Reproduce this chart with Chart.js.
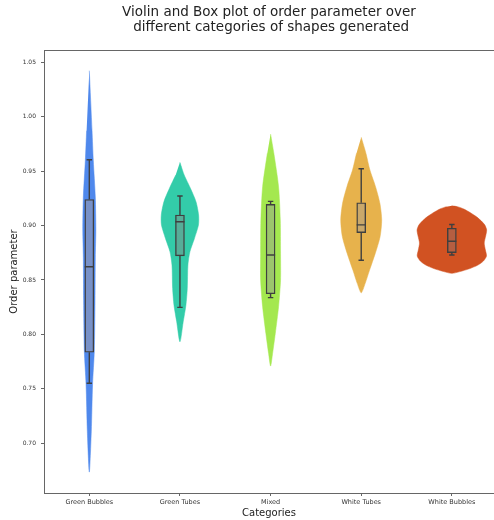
<!DOCTYPE html>
<html>
<head>
<meta charset="utf-8">
<script src="https://cdn.jsdelivr.net/npm/chart.js@4/dist/chart.umd.min.js"></script>
<style>
  html, body { margin: 0; padding: 0; background: #fff; }
  #wrap { width: 494px; height: 520px; }
</style>
</head>
<body>
<div id="wrap"><canvas id="chart" width="494" height="520"></canvas></div>
<script>
// Categories and y-axis ticks
const categories = ['Green Bubbles', 'Green Tubes', 'Mixed', 'White Tubes', 'White Bubbles'];
const yTickValues = [0.70, 0.75, 0.80, 0.85, 0.90, 0.95, 1.00, 1.05];

// Kernel density outlines: order-parameter levels (high to low) and half widths in category units
const levelsGreenBubbles  = [1.0423, 0.9871, 0.9596, 0.9262, 0.8959, 0.8710, 0.8315, 0.7846, 0.7543, 0.7111, 0.6735];
const densityGreenBubbles = [0, 0.030, 0.044, 0.066, 0.072, 0.066, 0.063, 0.055, 0.036, 0.022, 0];

const levelsGreenTubes  = [0.9581, 0.9464, 0.9342, 0.9219, 0.9097, 0.9005, 0.8882, 0.8759, 0.8637, 0.8423, 0.8269, 0.8116, 0.7932];
const densityGreenTubes = [0, 0.047, 0.116, 0.177, 0.206, 0.204, 0.160, 0.110, 0.088, 0.081, 0.066, 0.036, 0];

const levelsMixed  = [0.9841, 0.9664, 0.9357, 0.9051, 0.8744, 0.8499, 0.8254, 0.8009, 0.7825, 0.7709];
const densityMixed = [0, 0.036, 0.088, 0.107, 0.110, 0.110, 0.088, 0.052, 0.022, 0];

const levelsWhiteTubes  = [0.9811, 0.9664, 0.9510, 0.9357, 0.9204, 0.9051, 0.8897, 0.8744, 0.8591, 0.8469, 0.8382];
const densityWhiteTubes = [0, 0.052, 0.096, 0.158, 0.206, 0.226, 0.208, 0.155, 0.092, 0.044, 0];

const levelsWhiteBubbles  = [0.9181, 0.9174, 0.9152, 0.9115, 0.9078, 0.9041, 0.9005, 0.8959, 0.8904, 0.8839, 0.8775, 0.8720, 0.8674, 0.8637, 0.8605, 0.8577, 0.8561];
const densityWhiteBubbles = [0, 0.060, 0.132, 0.210, 0.276, 0.326, 0.364, 0.384, 0.373, 0.357, 0.370, 0.382, 0.348, 0.287, 0.199, 0.088, 0];

// Box plot statistics per category
const boxQ1       = [0.7836, 0.8722, 0.8374, 0.8935, 0.8752];
const boxMedian   = [0.8621, 0.9035, 0.8729, 0.9006, 0.8856];
const boxQ3       = [0.9239, 0.9097, 0.9195, 0.9210, 0.8975];
const whiskerLow  = [0.7551, 0.8248, 0.8338, 0.8681, 0.8730];
const whiskerHigh = [0.9605, 0.9271, 0.9222, 0.9522, 0.9010];

const violinColors = ['#4f88ec', '#33cca9', '#a4e84f', '#e7b24c', '#d15222'];
const boxColors    = ['#7891c8', '#57ad98', '#9cc46d', '#c9a86b', '#b55e41'];

const violinLevels  = [levelsGreenBubbles, levelsGreenTubes, levelsMixed, levelsWhiteTubes, levelsWhiteBubbles];
const violinDensity = [densityGreenBubbles, densityGreenTubes, densityMixed, densityWhiteTubes, densityWhiteBubbles];

// Closed outline: right side top to bottom, then left side back up
function violinOutline(i) {
  const lv = violinLevels[i], dn = violinDensity[i];
  const pts = lv.map((v, k) => ({ x: i + dn[k], y: v }));
  for (let k = lv.length - 2; k > 0; k--) pts.push({ x: i - dn[k], y: lv[k] });
  return pts;
}

const BOX_HALF = 0.05;
const CAP_HALF = 0.03;

// Whiskers, caps and median strokes, separated by gaps
const strokePoints = [];
categories.forEach((c, i) => {
  const gap = { x: i, y: null };
  strokePoints.push({ x: i, y: boxQ3[i] }, { x: i, y: whiskerHigh[i] }, gap);
  strokePoints.push({ x: i - CAP_HALF, y: whiskerHigh[i] }, { x: i + CAP_HALF, y: whiskerHigh[i] }, gap);
  strokePoints.push({ x: i, y: boxQ1[i] }, { x: i, y: whiskerLow[i] }, gap);
  strokePoints.push({ x: i - CAP_HALF, y: whiskerLow[i] }, { x: i + CAP_HALF, y: whiskerLow[i] }, gap);
  strokePoints.push({ x: i - BOX_HALF, y: boxMedian[i] }, { x: i + BOX_HALF, y: boxMedian[i] }, gap);
});

const edgeColor = '#3f3f3f';

const datasets = [];
categories.forEach((c, i) => {
  datasets.push({
    type: 'line',
    label: c,
    data: violinOutline(i),
    backgroundColor: violinColors[i],
    borderColor: violinColors[i],
    borderWidth: 0.5,
    fill: 'shape',
    tension: 0.25,
    pointRadius: 0,
    order: 3
  });
});
datasets.push({
  type: 'bar',
  label: 'box',
  data: categories.map((c, i) => ({ x: i, y: [boxQ1[i], boxQ3[i]] })),
  backgroundColor: boxColors,
  borderColor: edgeColor,
  borderWidth: 1.4,
  borderSkipped: false,
  barThickness: 9,
  order: 2
});
datasets.push({
  type: 'line',
  label: 'whiskers',
  data: strokePoints,
  borderColor: edgeColor,
  borderWidth: 1.4,
  pointRadius: 0,
  spanGaps: false,
  tension: 0,
  fill: false,
  order: 1
});

const font = 'DejaVu Sans';
const axisColor = '#666';

new Chart(document.getElementById('chart'), {
  data: { datasets },
  options: {
    responsive: false,
    animation: false,
    layout: { padding: 0 },
    plugins: {
      legend: { display: false },
      tooltip: { enabled: false },
      title: {
        display: true,
        fullSize: false,
        text: ['Violin and Box plot of order parameter over', ' different categories of shapes generated'],
        color: '#222',
        font: { family: font, size: 13.5, weight: 'normal', lineHeight: '14.7px' },
        padding: { top: 5.3, bottom: 15.3 }
      }
    },
    scales: {
      x: {
        type: 'linear',
        position: 'bottom',
        offset: false,
        min: -0.5,
        max: 4.465,
        afterBuildTicks: s => { s.ticks = categories.map((c, i) => ({ value: i })); },
        afterFit: s => { s.height = 27; },
        ticks: {
          callback: v => categories[v],
          color: '#333',
          font: { family: font, size: 6.5 },
          padding: 2,
          maxRotation: 0,
          autoSkip: false
        },
        grid: { offset: false, drawOnChartArea: false, drawTicks: true, tickLength: 3, color: axisColor },
        border: { display: true, color: axisColor, width: 1 },
        title: {
          display: true,
          text: 'Categories',
          color: '#222',
          font: { family: font, size: 10 },
          padding: { top: 0, bottom: 1 }
        }
      },
      xTop: {
        type: 'linear',
        position: 'top',
        offset: false,
        min: -0.5,
        max: 4.465,
        afterFit: s => { s.height = 0; },
        ticks: { display: false },
        grid: { offset: false, drawOnChartArea: false, drawTicks: false },
        border: { display: true, color: axisColor, width: 1 }
      },
      y: {
        type: 'linear',
        position: 'left',
        min: 0.6543,
        max: 1.0613,
        afterBuildTicks: s => { s.ticks = yTickValues.map(v => ({ value: v })); },
        afterFit: s => { s.width = 44; },
        ticks: {
          callback: v => v.toFixed(2),
          color: '#333',
          font: { family: font, size: 6 },
          padding: 5
        },
        grid: { drawOnChartArea: false, drawTicks: true, tickLength: 3, color: axisColor },
        border: { display: true, color: axisColor, width: 1 },
        title: {
          display: true,
          text: 'Order parameter',
          color: '#222',
          font: { family: font, size: 10 },
          padding: { top: 8.5, bottom: 0 }
        }
      }
    }
  }
});
</script>
</body>
</html>
